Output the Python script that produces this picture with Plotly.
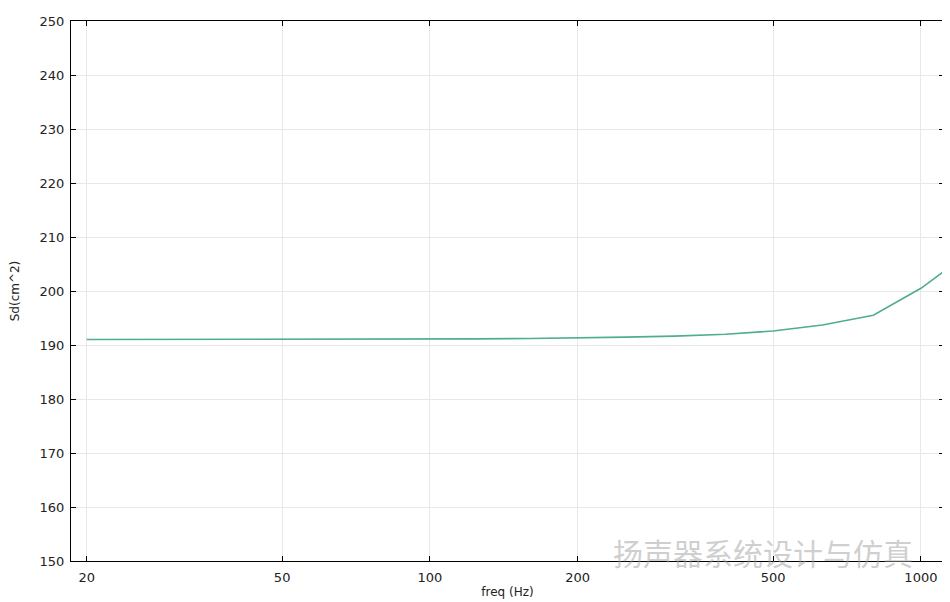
import plotly.graph_objects as go

freq = [20, 25, 31.5, 40, 50, 63, 80, 100, 125, 160, 200, 250, 315, 400, 500, 630, 800, 1000, 1250]
sd = [191.02, 191.02, 191.02, 191.03, 191.04, 191.06, 191.08, 191.1, 191.14, 191.2, 191.3,
      191.45, 191.65, 192.0, 192.6, 193.7, 195.5, 200.5, 207.0]

x_ticks = [20, 50, 100, 200, 500, 1000]
y_ticks = [150, 160, 170, 180, 190, 200, 210, 220, 230, 240, 250]

FONT = "DejaVu Sans"

fig = go.Figure()
fig.add_trace(go.Scatter(x=freq, y=sd, mode="lines",
                         line=dict(color="#4fae8c", width=1.6), showlegend=False))

axis_common = dict(showline=True, linecolor="black", linewidth=1, mirror="ticks",
                   ticks="inside", ticklen=5, tickcolor="black", automargin=False,
                   showgrid=True, gridcolor="#e8e8e8", gridwidth=1, zeroline=False,
                   tickfont=dict(family=FONT, size=13, color="#222"))

fig.update_xaxes(type="log", range=[1.269, 3.047], tickvals=x_ticks,
                 ticktext=[str(v) for v in x_ticks], ticklabelstandoff=4,
                 title=dict(text="freq (Hz)", font=dict(family=FONT, size=12, color="#222"), standoff=4),
                 **axis_common)
fig.update_yaxes(range=[150, 250], tickvals=y_ticks, ticklabelstandoff=3,
                 title=dict(text="Sd(cm^2)", font=dict(family=FONT, size=12, color="#222"), standoff=22),
                 **axis_common)

fig.add_annotation(text="扬声器系统设计与仿真", xref="paper", yref="paper",
                   x=0.967, y=0.017, xanchor="right", yanchor="middle", showarrow=False,
                   font=dict(family="Noto Sans CJK SC", size=30, color="rgba(160,160,160,0.5)"))

fig.update_layout(width=942, height=594, plot_bgcolor="white", paper_bgcolor="white",
                  margin=dict(l=63, r=6, t=13, b=41),
                  font=dict(family=FONT))

fig.write_html("out.html")
